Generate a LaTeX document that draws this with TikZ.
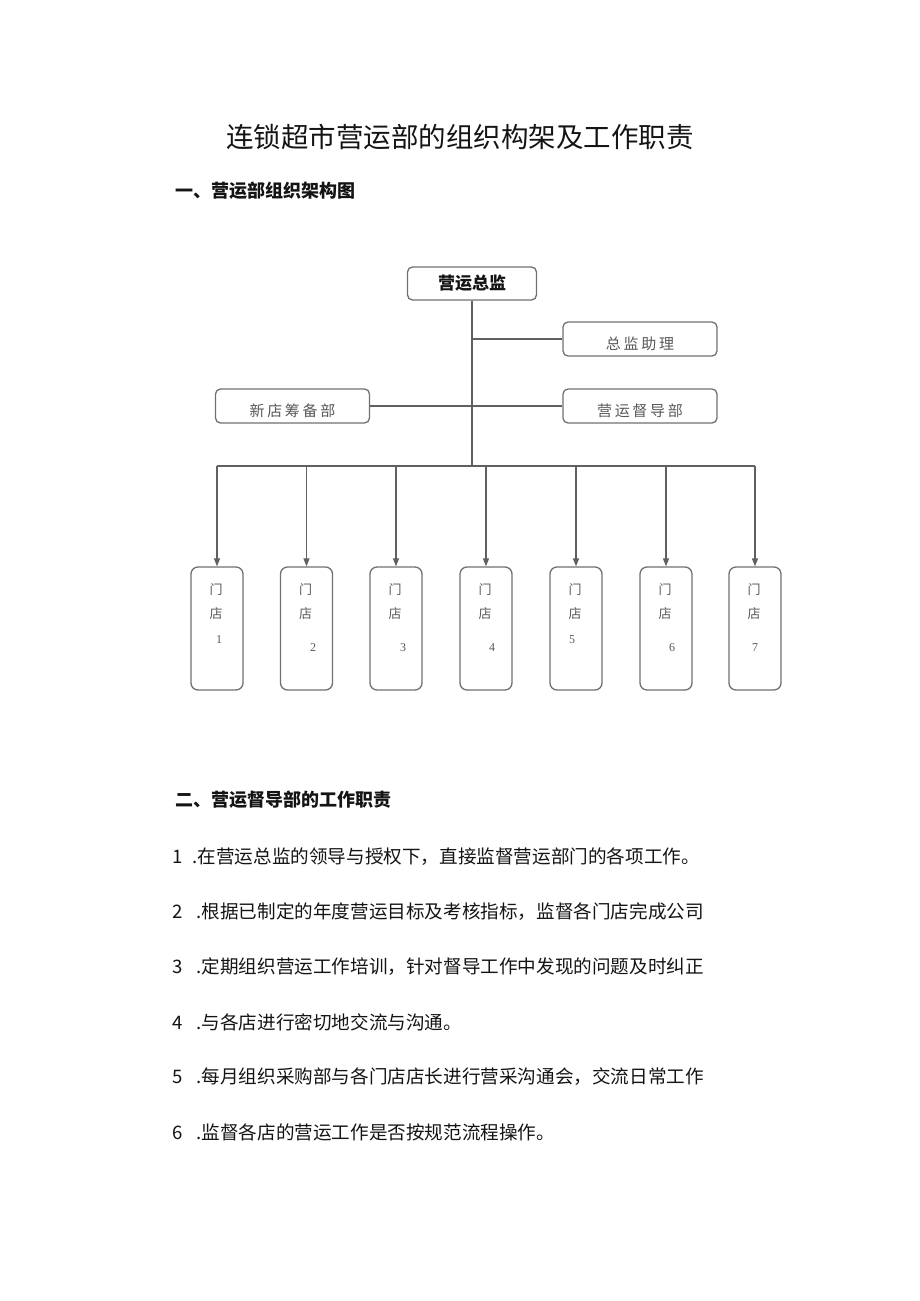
\documentclass[tikz,border=0pt]{standalone}
\usepackage{fontspec}
\newfontfamily\cjk{Noto Sans CJK SC}
\newfontfamily\cjkwide{Noto Sans CJK SC}[LetterSpace=18]
\newfontfamily\numfont{Liberation Serif}
\usepackage{xcolor}
\definecolor{boxline}{RGB}{112,112,112}
\definecolor{linkline}{RGB}{96,96,96}
\definecolor{boxtext}{RGB}{88,88,88}
\definecolor{bodytext}{RGB}{20,20,20}
\usetikzlibrary{arrows.meta,positioning}

\begin{document}
\begin{tikzpicture}[x=1pt, y=-1pt,
  unit/.style={draw=boxline, line width=1.3pt, rounded corners=5pt, minimum width=154pt, minimum height=34pt, inner sep=0pt, text height=20pt, text depth=0pt, font=\cjkwide\fontsize{15}{15}\selectfont, text=boxtext},
  head/.style={unit, minimum width=129pt, minimum height=33pt, text height=13pt, text depth=2pt, font=\cjk\bfseries\fontsize{17}{17}\selectfont, text=bodytext},
  store/.style={draw=boxline, line width=1.3pt, rounded corners=7pt, minimum width=52pt, minimum height=123pt, inner sep=0pt},
  storetxt/.style={font=\cjk\fontsize{13}{13}\selectfont, text=boxtext, inner sep=0pt},
  storenum/.style={font=\numfont\fontsize{12}{12}\selectfont, text=boxtext, inner sep=0pt},
  link/.style={draw=linkline, line width=1.2pt},
  arrow/.style={link, -{Triangle[length=8pt, width=6pt]}},
  heading/.style={anchor=west, inner sep=0pt, font=\cjk\bfseries\fontsize{18}{18}\selectfont, text=bodytext},
  duty/.style={anchor=west, inner sep=0pt, font=\cjk\fontsize{18.6}{18.6}\selectfont, text=bodytext}
]
\useasboundingbox (0,0) rectangle (920,1301);

% titles
\node[inner sep=0pt, font=\cjk\fontsize{27.5}{27.5}\selectfont, text=bodytext] (title) at (460,137) {连锁超市营运部的组织构架及工作职责};
\node[heading] (part1) at (175,191) {一、营运部组织架构图};

% chart
\node[head] (chief) at (472,283.5) {营运总监};
\node[unit] (assist) at (640,339) {总监助理};
\node[unit] (newshop) at (292.5,406) {新店筹备部};
\node[unit] (superv) at (640,406) {营运督导部};

\coordinate (bus) at (472,466);
\draw[link] (chief.south) -- (bus);
\draw[link] (chief.south |- assist.west) -- (assist.west);
\draw[link] (newshop.east) -- (superv.west);

\foreach \i/\x/\dx/\ny in {1/217/2/640, 2/306.5/6.5/648, 3/396/7/648, 4/486/6/648, 5/576/-4/640, 6/666/6/648, 7/755/0/648} {
  \node[store] (s\i) at (\x,628.5) {};
  \coordinate (b\i) at (\x,466);
  \node[storetxt] (m\i) at (\x-1,590) {门};
  \node[storetxt] (d\i) at (\x-1,614) {店};
  \node[storenum] (n\i) at (\x+\dx,\ny) {\i};
  \draw[arrow] (b\i) -- (s\i.north);
}
\draw[link] (b1) -- (b7);

% duties
\node[heading] (part2) at (175,800) {二、营运督导部的工作职责};
\node[duty] (r1) at (172,857) {1\hspace{10pt}.在营运总监的领导与授权下，直接监督营运部门的各项工作。};
\node[duty] (r2) at (172,912) {2\hspace{14pt}.根据已制定的年度营运目标及考核指标，监督各门店完成公司};
\node[duty] (r3) at (172,967) {3\hspace{14pt}.定期组织营运工作培训，针对督导工作中发现的问题及时纠正};
\node[duty] (r4) at (172,1022) {4\hspace{14pt}.与各店进行密切地交流与沟通。};
\node[duty] (r5) at (172,1077) {5\hspace{14pt}.每月组织采购部与各门店店长进行营采沟通会，交流日常工作};
\node[duty] (r6) at (172,1132) {6\hspace{14pt}.监督各店的营运工作是否按规范流程操作。};
\end{tikzpicture}
\end{document}
